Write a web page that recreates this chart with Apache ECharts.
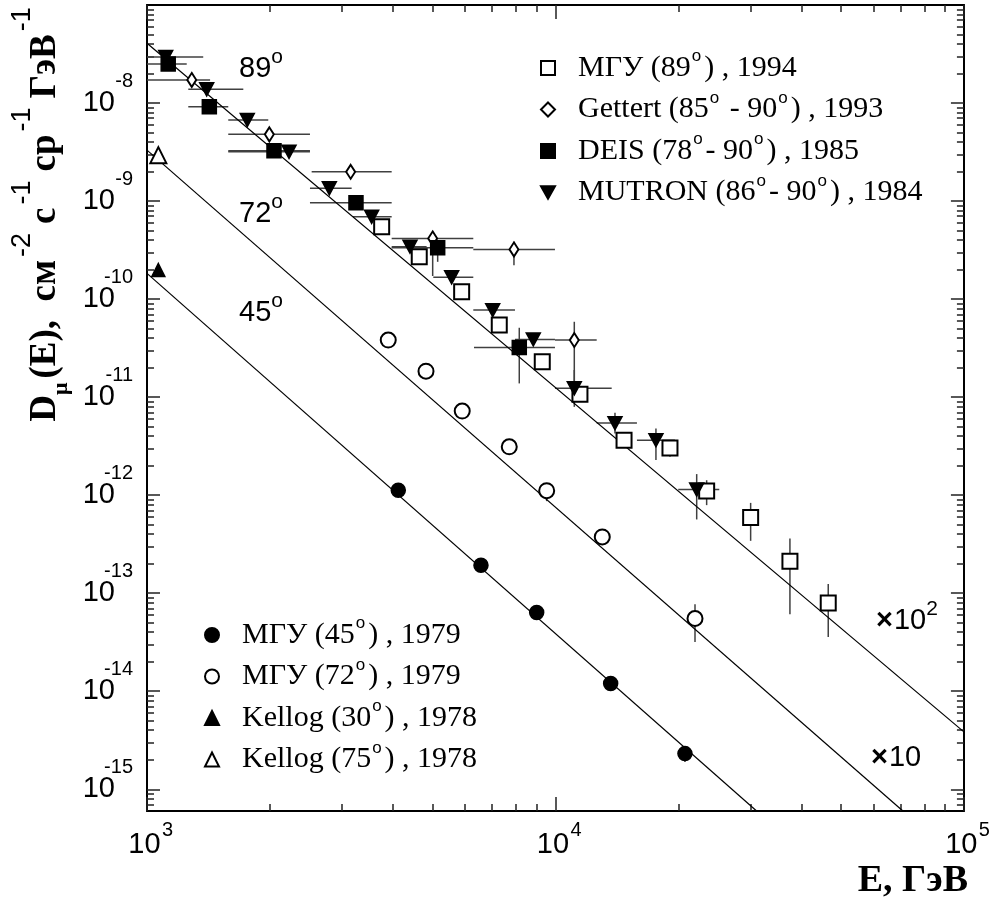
<!DOCTYPE html>
<html>
<head>
<meta charset="utf-8">
<script src="https://cdn.jsdelivr.net/npm/echarts@6/dist/echarts.min.js"></script>
<style>
  html, body { margin: 0; padding: 0; background: #fff; }
  #chart { width: 993px; height: 907px; }
</style>
</head>
<body>
<div id="chart"></div>
<script>
// axis ranges and ticks
const xMin = 1000, xMax = 100000
const yMin = 6e-16, yMax = 1e-7
const xMajor = [1e3, 1e4, 1e5]
const xMinor = [2e3, 3e3, 4e3, 5e3, 6e3, 7e3, 8e3, 9e3, 2e4, 3e4, 4e4, 5e4, 6e4, 7e4, 8e4, 9e4]
const yMajor = [1e-15, 1e-14, 1e-13, 1e-12, 1e-11, 1e-10, 1e-9, 1e-8]
const yMinor = []
for (let d = -16; d <= -8; d++) {
  for (let m = 2; m <= 9; m++) {
    const v = m * Math.pow(10, d)
    if (v > yMin && v < yMax) yMinor.push(v)
  }
}

// power-law fits (end points)
const fit89 = [[1000, 4.07e-8], [100000, 3.85e-15]]
const fit72 = [[1000, 3.31e-9], [70900, 6.0e-16]]
const fit45 = [[1000, 1.83e-10], [31080, 6.0e-16]]

// points: [E, D, Elo, Ehi, Dlo, Dhi]
const mgu89 = [
  [3754, 5.47e-10, null, null, null, null],
  [4640, 2.70e-10, null, null, null, null],
  [5893, 1.19e-10, null, null, null, null],
  [7285, 5.43e-11, null, null, null, null],
  [9283, 2.29e-11, null, null, null, null],
  [11480, 1.07e-11, null, null, null, null],
  [14720, 3.64e-12, null, null, 3.05e-12, 3.64e-12],
  [19070, 3.02e-12, null, null, 2.46e-12, 3.02e-12],
  [23450, 1.10e-12, null, null, 7.91e-13, 1.42e-12],
  [30050, 5.92e-13, null, null, 3.42e-13, 8.34e-13],
  [37500, 2.12e-13, null, null, 6.11e-14, 3.62e-13],
  [46540, 7.96e-14, null, null, 3.58e-14, 1.24e-13]
]
const gettert = [
  [1287, 1.72e-8, 1000, 1427, null, null],
  [1993, 4.79e-9, 1581, 2506, null, null],
  [3152, 1.99e-9, 2530, 3972, null, null],
  [5005, 4.16e-10, 3972, 6293, 1.72e-10, 4.4e-10],
  [7914, 3.21e-10, 6293, 9972, 2.22e-10, 3.84e-10],
  [11120, 3.82e-11, 9972, 12617, 1.23e-11, 5.87e-11]
]
const deis = [
  [1127, 2.50e-8, 1000, 1251, null, null],
  [1421, 9.17e-9, 1262, 1581, null, null],
  [2046, 3.26e-9, 1581, 2506, null, null],
  [3248, 9.61e-10, 2506, 3972, null, null],
  [5148, 3.34e-10, 3972, 6293, 2.40e-10, 3.34e-10],
  [8155, 3.21e-11, 6318, 9972, 1.38e-11, 5.10e-11]
]
const mutron = [
  [1111, 2.95e-8, 1000, 1373, null, null],
  [1400, 1.38e-8, 1262, 1721, null, null],
  [1760, 6.71e-9, 1581, 1981, null, null],
  [2227, 3.18e-9, 1581, 2506, null, null],
  [2795, 1.35e-9, 2506, 3170, null, null],
  [3548, 6.91e-10, 3194, 3972, null, null],
  [4404, 3.42e-10, 3972, 4837, null, null],
  [5570, 1.67e-10, 5022, 6293, null, null],
  [7020, 7.72e-11, 6293, 7960, null, null],
  [8825, 3.88e-11, 7960, 9972, null, null],
  [11120, 1.23e-11, 9972, 13730, 7.96e-12, 1.89e-11],
  [13987, 5.43e-12, 12617, 15830, 4.26e-12, 6.91e-12],
  [17620, 3.64e-12, 15830, 19610, 2.28e-12, 4.79e-12],
  [22170, 1.14e-12, 19980, 25180, 5.65e-13, 1.64e-12]
]
const mgu45 = [
  [4123, 1.12e-12, null, null, null, null],
  [6571, 1.93e-13, null, null, null, null],
  [8995, 6.35e-14, null, null, null, null],
  [13650, 1.20e-14, null, null, 1.02e-14, 1.36e-14],
  [20750, 2.31e-15, null, null, 1.90e-15, 2.70e-15]
]
const mgu72 = [
  [3896, 3.82e-11, null, null, null, null],
  [4820, 1.84e-11, null, null, null, null],
  [5912, 7.20e-12, null, null, null, null],
  [7707, 3.11e-12, null, null, null, null],
  [9517, 1.11e-12, null, null, 8.69e-13, 1.11e-12],
  [13020, 3.75e-13, null, null, 3.47e-13, 4.50e-13],
  [21960, 5.52e-14, null, null, 3.18e-14, 7.72e-14]
]
const kellog30 = [[1066, 1.98e-10, null, null, null, null]]
const kellog75 = [[1066, 2.94e-9, null, null, null, null]]

const legendTop = ['МГУ (89°) , 1994', 'Gettert (85° - 90°) , 1993', 'DEIS (78°- 90°) , 1985', 'MUTRON (86°- 90°) , 1984']
const legendBottom = ['МГУ (45°) , 1979', 'МГУ (72°) , 1979', 'Kellog (30°) , 1978', 'Kellog (75°) , 1978']

const sans = 'Liberation Sans'
const serif = 'Liberation Serif'
const tickColor = '#222'

// 10^n labels
const yPowRich = {
  b: { fontFamily: sans, fontSize: 29, lineHeight: 64, color: '#000' },
  s: { fontFamily: sans, fontSize: 20, lineHeight: 64, verticalAlign: 'top', width: 18, align: 'right', color: '#000' }
}
const xPowRich = {
  s: { fontFamily: sans, fontSize: 20, lineHeight: 10, padding: [0, 0, 0, 41], color: '#000' },
  b: { fontFamily: sans, fontSize: 29, lineHeight: 20, padding: [0, 12.5, 0, 7.4], color: '#000' }
}
const yPowLabel = (v) => '{b|10}{s|' + Math.round(Math.log10(v)) + '}'
const xPowLabel = (v) => '{s|' + Math.round(Math.log10(v)) + '}\n{b|10}'

function axis(dim, position, ticks, len, opts) {
  const a = {
    type: 'log',
    logBase: 10,
    position: position,
    min: dim === 'x' ? xMin : yMin,
    max: dim === 'x' ? xMax : yMax,
    axisLine: { show: !!opts.line, lineStyle: { color: '#000', width: 2 } },
    axisTick: { show: true, inside: true, length: len, customValues: ticks, lineStyle: { color: tickColor, width: 1.5 } },
    axisLabel: { show: false },
    splitLine: { show: false },
    minorTick: { show: false }
  }
  if (opts.labels) {
    a.axisLabel = dim === 'x'
      ? { show: true, customValues: ticks, formatter: xPowLabel, rich: xPowRich, margin: 14 }
      : { show: true, customValues: ticks, formatter: yPowLabel, rich: yPowRich, margin: 14 }
  }
  return a
}

function errBars(data) {
  return {
    type: 'custom',
    data: data,
    encode: { x: 0, y: 1 },
    clip: true,
    z: 1,
    silent: true,
    renderItem: (params, api) => {
      const x = api.value(0), y = api.value(1)
      const children = []
      const xlo = api.value(2), xhi = api.value(3), ylo = api.value(4), yhi = api.value(5)
      const st = { stroke: '#404040', lineWidth: 1.5 }
      if (!isNaN(xlo) && !isNaN(xhi)) {
        const a = api.coord([xlo, y]), b = api.coord([xhi, y])
        children.push({ type: 'line', shape: { x1: a[0], y1: a[1], x2: b[0], y2: b[1] }, style: st })
      }
      if (!isNaN(ylo) && !isNaN(yhi)) {
        const a = api.coord([x, ylo]), b = api.coord([x, yhi])
        children.push({ type: 'line', shape: { x1: a[0], y1: a[1], x2: b[0], y2: b[1] }, style: st })
      }
      return { type: 'group', children: children }
    }
  }
}

function points(name, data, symbol, size) {
  return {
    name: name,
    type: 'scatter',
    data: data,
    encode: { x: 0, y: 1 },
    symbol: symbol,
    symbolSize: size,
    z: 3,
    itemStyle: { color: '#000', borderColor: '#000', borderWidth: 1.5, opacity: 1 },
    emphasis: { disabled: true }
  }
}

function fit(data) {
  return {
    type: 'line',
    data: data,
    showSymbol: false,
    symbol: 'none',
    z: 2,
    silent: true,
    lineStyle: { color: '#000', width: 1.2 }
  }
}

const downTri = 'path://M0,0L10,0L5,9Z'

const legendRich = {
  s: { fontFamily: sans, fontSize: 17, lineHeight: 17, verticalAlign: 'top', padding: [0, 3, 0, 1], color: '#000' }
}
function legend(names, left, top) {
  return {
    data: names,
    orient: 'vertical',
    left: left,
    top: top,
    itemWidth: 14,
    itemHeight: 14,
    itemGap: 1.5,
    selectedMode: false,
    formatter: (n) => n.replace(/°/g, '{s|o}'),
    textStyle: { fontFamily: serif, fontSize: 30, lineHeight: 40, color: '#000', padding: [0, 0, 0, 18], rich: legendRich }
  }
}

const annRich = {
  n: { fontFamily: sans, fontSize: 29, lineHeight: 36, verticalAlign: 'top', padding: [7, 0, 0, 0], fill: '#000' },
  x: { fontFamily: sans, fontWeight: 'bold', fontSize: 29, lineHeight: 36, verticalAlign: 'top', padding: [7, 1, 0, 0], fill: '#000' },
  s: { fontFamily: sans, fontSize: 21, lineHeight: 36, verticalAlign: 'top', fill: '#000' }
}
function ann(text, x, y) {
  return { type: 'text', x: x, y: y, silent: true, style: { text: text, rich: annRich, fill: '#000', verticalAlign: 'top' } }
}

const titleRich = {
  m: { fontFamily: serif, fontWeight: 'bold', fontSize: 37, lineHeight: 64, verticalAlign: 'top', padding: [18, 0, 0, 0], fill: '#000' },
  sup: { fontFamily: sans, fontSize: 27, lineHeight: 64, verticalAlign: 'top', padding: [0, 9, 0, 3], fill: '#000' },
  sub: { fontFamily: serif, fontWeight: 'bold', fontSize: 22, lineHeight: 64, verticalAlign: 'top', padding: [41, 4, 0, 0], fill: '#000' }
}

const chart = echarts.init(document.getElementById('chart'), null, { renderer: 'canvas' })
chart.setOption({
  animation: false,
  backgroundColor: '#fff',
  grid: { left: 147, right: 29, top: 5, bottom: 96, containLabel: false },
  xAxis: [
    axis('x', 'bottom', xMajor, 14, { line: true, labels: true }),
    axis('x', 'bottom', xMinor, 7, {}),
    axis('x', 'top', xMajor, 14, { line: true }),
    axis('x', 'top', xMinor, 7, {})
  ],
  yAxis: [
    axis('y', 'left', yMajor, 13, { line: true, labels: true }),
    axis('y', 'left', yMinor, 7, {}),
    axis('y', 'right', yMajor, 13, { line: true }),
    axis('y', 'right', yMinor, 7, {})
  ],
  legend: [legend(legendTop, 535, 43), legend(legendBottom, 199, 610)],
  series: [
    fit(fit89), fit(fit72), fit(fit45),
    errBars(mgu89), errBars(gettert), errBars(deis), errBars(mutron), errBars(mgu45), errBars(mgu72),
    points(legendTop[0], mgu89, 'emptyRect', 15),
    points(legendTop[1], gettert, 'emptyDiamond', [9, 14]),
    points(legendTop[2], deis, 'rect', 14),
    points(legendTop[3], mutron, downTri, [14, 13]),
    points(legendBottom[0], mgu45, 'circle', 14),
    points(legendBottom[1], mgu72, 'emptyCircle', 15),
    points(legendBottom[2], kellog30, 'triangle', 13),
    points(legendBottom[3], kellog75, 'emptyTriangle', 16)
  ],
  graphic: [
    ann('{n|89}{s|o}', 239, 47),
    ann('{n|72}{s|o}', 239, 192),
    ann('{n|45}{s|o}', 239, 291),
    ann('{x|×}{n|10}{s|2}', 876, 599),
    ann('{x|×}{n|10}', 871, 736),
    {
      type: 'text', x: 41, y: 210, rotation: Math.PI / 2, silent: true,
      style: {
        text: '{m|D}{sub|μ}{m|(E),  см}{sup|-2}{m|с}{sup|-1}{m|ср}{sup|-1}{m|ГэВ}{sup|-1}',
        rich: titleRich, fill: '#000', align: 'center', verticalAlign: 'middle'
      }
    },
    {
      type: 'text', x: 968, y: 900, silent: true,
      style: { text: 'E, ГэВ', fontFamily: serif, fontWeight: 'bold', fontSize: 38, fill: '#000', align: 'right', verticalAlign: 'bottom' }
    }
  ]
})
</script>
</body>
</html>
